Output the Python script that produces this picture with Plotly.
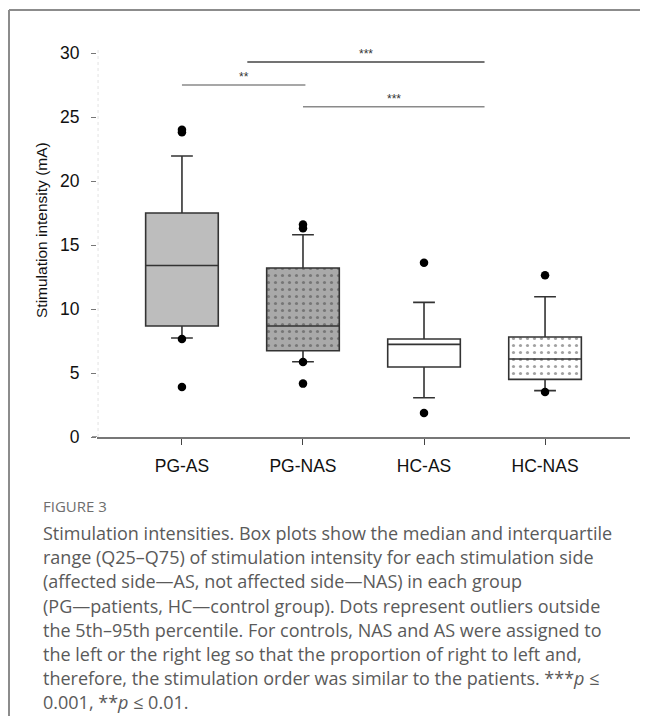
import plotly.graph_objects as go

# ---- data ----
groups = ["PG-AS", "PG-NAS", "HC-AS", "HC-NAS"]
q1 = [8.67, 6.74, 5.47, 4.50]
median = [13.4, 8.67, 7.24, 6.09]
q3 = [17.5, 13.2, 7.66, 7.81]
low_whisker = [7.73, 5.88, 3.07, 3.62]
high_whisker = [21.95, 15.8, 10.52, 10.96]
outliers = [
    [23.8, 24.0, 7.65, 3.9],
    [16.3, 16.6, 5.86, 4.17],
    [13.62, 1.87],
    [12.63, 3.52],
]
fill_colors = ["#bdbdbd", "#a9a9a9", "#ffffff", "#ffffff"]
patterns = ["", ".", "", "."]

y_ticks = [0, 5, 10, 15, 20, 25, 30]
y_title = "Stimulation intensity (mA)"

# significance comparisons: (x start, x end, y level, label)
sig_x0 = [0.54, 0.0, 1.0]
sig_x1 = [2.5, 1.02, 2.5]
sig_y = [29.3, 27.5, 25.8]
sig_labels = ["***", "**", "***"]
sig_colors = ["#444444", "#8a8a8a", "#8a8a8a"]

caption_head = "FIGURE 3"
caption_lines = [
    "Stimulation intensities. Box plots show the median and interquartile",
    "range (Q25–Q75) of stimulation intensity for each stimulation side",
    "(affected side—AS, not affected side—NAS) in each group",
    "(PG—patients, HC—control group). Dots represent outliers outside",
    "the 5th–95th percentile. For controls, NAS and AS were assigned to",
    "the left or the right leg so that the proportion of right to left and,",
    "therefore, the stimulation order was similar to the patients. ***<i>p</i> ≤",
    "0.001, **<i>p</i> ≤ 0.01.",
]

# ---- layout geometry (page body has an 8px margin on every side) ----
OFF = 8
W, H = 648 - 2 * OFF, 724 - 2 * OFF
ml, mt = 97 - OFF, 27 - OFF
mr = W - (630 - OFF)
mb = H - (437 - OFF)
plot_h = H - mt - mb
plot_w = W - ml - mr
px_per_unit = 12.8
y_max = plot_h / px_per_unit


def py_ref(py):
    """reference-image y pixel -> paper coordinate"""
    return (H - mb - (py - OFF)) / plot_h


def px_ref(px):
    """reference-image x pixel -> paper coordinate"""
    return ((px - OFF) - ml) / plot_w


xs = list(range(len(groups)))
fig = go.Figure()

# box bodies with fill patterns
fig.add_trace(go.Bar(
    x=xs,
    base=q1,
    y=[b - a for a, b in zip(q1, q3)],
    width=0.6,
    marker=dict(
        color=fill_colors,
        line=dict(width=0),
        pattern=dict(shape=patterns, bgcolor=fill_colors, fgcolor="#000000",
                     size=7, solidity=0.16),
    ),
    showlegend=False,
    hoverinfo="skip",
))

# box outlines, medians and whiskers
for i in xs:
    fig.add_trace(go.Box(
        x=[i],
        q1=[q1[i]], median=[median[i]], q3=[q3[i]],
        lowerfence=[low_whisker[i]], upperfence=[high_whisker[i]],
        width=0.6,
        whiskerwidth=0.3,
        fillcolor="rgba(0,0,0,0)",
        line=dict(color="#333333", width=1.6),
        boxpoints=False,
        showlegend=False,
    ))

# outlier dots
for i in xs:
    fig.add_trace(go.Scatter(
        x=[i] * len(outliers[i]),
        y=outliers[i],
        mode="markers",
        marker=dict(color="#000000", size=8.5),
        showlegend=False,
        hoverinfo="skip",
    ))

shapes = []
annotations = []

# significance bars
for x0, x1, yv, lab, col in zip(sig_x0, sig_x1, sig_y, sig_labels, sig_colors):
    shapes.append(dict(type="line", xref="x", yref="y", x0=x0, x1=x1, y0=yv, y1=yv,
                       line=dict(color=col, width=1.5)))
    annotations.append(dict(x=(x0 + x1) / 2, y=yv, xref="x", yref="y",
                            text=lab, showarrow=False, yanchor="bottom", yshift=-1,
                            font=dict(family="Liberation Sans, Arial", size=12, color="#333333")))

# faint y-axis line
shapes.append(dict(type="line", xref="paper", yref="paper", x0=0.002, x1=0.002, y0=0, y1=py_ref(50),
                   line=dict(color="#e2e2e2", width=1, dash="dot")))
# x-axis line extension to the left
shapes.append(dict(type="line", xref="paper", yref="y", x0=px_ref(92), x1=0, y0=0, y1=0,
                   line=dict(color="#777777", width=1.5)))

# figure border (top + left)
shapes.append(dict(type="line", xref="paper", yref="paper",
                   x0=px_ref(9), x1=px_ref(660), y0=py_ref(10), y1=py_ref(10),
                   line=dict(color="#8c8c8c", width=2)))
shapes.append(dict(type="line", xref="paper", yref="paper",
                   x0=px_ref(9), x1=px_ref(9), y0=py_ref(10), y1=py_ref(740),
                   line=dict(color="#8c8c8c", width=2)))

# y title
annotations.append(dict(x=px_ref(41), y=py_ref(230), xref="paper", yref="paper",
                        text=y_title, textangle=-90, showarrow=False,
                        xanchor="center", yanchor="middle",
                        font=dict(family="Liberation Sans, Arial", size=15.5, color="#111111")))

# caption
cap_x = px_ref(41)
annotations.append(dict(x=cap_x, y=py_ref(506), xref="paper", yref="paper",
                        text=caption_head, showarrow=False, xanchor="left", yanchor="middle",
                        font=dict(family="Open Sans", size=15, color="#6e6e6e")))
for k, line in enumerate(caption_lines):
    annotations.append(dict(x=cap_x, y=py_ref(533 + k * 24.2), xref="paper", yref="paper",
                            text=line, showarrow=False, xanchor="left", yanchor="middle",
                            font=dict(family="Open Sans", size=18, color="#5a5a5a")))

fig.update_layout(
    width=W, height=H,
    margin=dict(l=ml, r=mr, t=mt, b=mb, pad=0),
    paper_bgcolor="white", plot_bgcolor="white",
    shapes=shapes, annotations=annotations,
    barmode="overlay",
    boxmode="overlay",
)
fig.update_xaxes(
    range=[-0.702, 3.702], tickvals=xs, ticktext=groups,
    showline=True, linecolor="#777777", linewidth=1.5,
    ticks="outside", ticklen=6, tickcolor="#444444", tickwidth=1,
    showgrid=False, zeroline=False,
    tickfont=dict(family="Liberation Sans, Arial", size=17.5, color="#111111"),
    ticklabelstandoff=6,
)
fig.update_yaxes(
    range=[0, y_max], tickvals=y_ticks,
    showline=False, showgrid=False, zeroline=False,
    ticks="outside", ticklen=5, tickcolor="#777777", tickwidth=1,
    tickfont=dict(family="Liberation Sans, Arial", size=17.5, color="#111111"),
    ticklabelstandoff=8,
)

fig.write_html("out.html")
